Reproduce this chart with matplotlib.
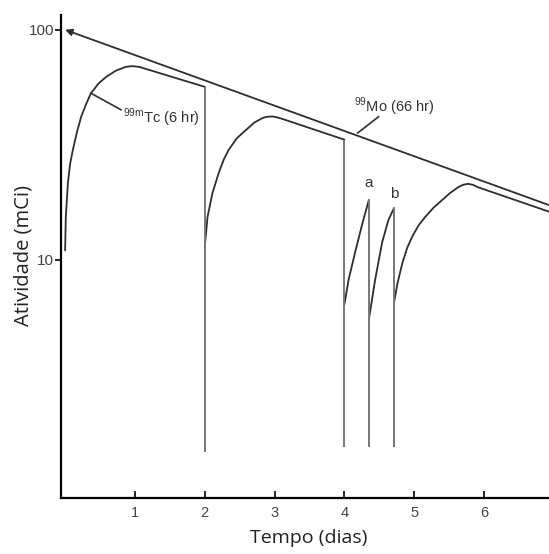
import matplotlib
matplotlib.use("Agg")
import matplotlib.pyplot as plt

plt.rcParams['mathtext.fontset'] = 'custom'
plt.rcParams['mathtext.rm'] = 'Liberation Sans'

# 99Mo decay line (endpoints)
mo_t = [0.0, 6.93]
mo_a = [100, 17.3]

# 99mTc growth curves between elutions
tc1_t = [0.0, 0.01, 0.04, 0.07, 0.11, 0.17, 0.23, 0.30, 0.37, 0.48, 0.59, 0.73, 0.87, 0.96, 1.06, 2.0]
tc1_a = [11, 15.4, 21.6, 26, 30, 36, 41.9, 47.5, 53, 58.5, 62.5, 66.5, 69, 69.5, 69, 56.5]

tc2_t = [2.0, 2.04, 2.11, 2.2, 2.27, 2.34, 2.46, 2.59, 2.71, 2.83, 2.90, 2.97, 3.04, 3.11, 4.0]
tc2_a = [11.4, 15.4, 19.5, 23.9, 27.2, 30, 33.8, 36.7, 39.5, 41.4, 41.9, 42.0, 41.6, 41, 33.3]

tca_t = [4.0, 4.06, 4.16, 4.26, 4.35]
tca_a = [6.4, 8.2, 11, 14.5, 18.2]

tcb_t = [4.35, 4.44, 4.54, 4.63, 4.71]
tcb_a = [5.5, 8.2, 11.9, 14.9, 16.8]

tc5_t = [4.71, 4.76, 4.83, 4.90, 4.97, 5.06, 5.16, 5.28, 5.4, 5.52, 5.63, 5.70, 5.77, 5.84, 5.91, 6.93]
tc5_a = [6.5, 7.9, 9.7, 11.3, 12.6, 14.1, 15.4, 16.9, 18.2, 19.6, 20.7, 21.2, 21.4, 21.2, 20.7, 16.2]

# elution drops (time, top, bottom)
drop_t = [2.0, 4.0, 4.35, 4.71]
drop_top = [56.5, 33.3, 18.2, 16.8]
drop_bot = [1.46, 1.54, 1.54, 1.54]

fig = plt.figure(figsize=(5.49, 5.54), dpi=100)
ax = fig.add_axes([0.111, 0.101, 0.889, 0.872])
ax.set_yscale('log')
ax.set_xlim(-0.06, 6.93)
ax.set_ylim(0.922, 116)

line_col = '#2e2e2e'
for t, a in [(tc1_t, tc1_a), (tc2_t, tc2_a), (tca_t, tca_a), (tcb_t, tcb_a), (tc5_t, tc5_a)]:
    ax.plot(t, a, color=line_col, lw=1.3, solid_joinstyle='round', solid_capstyle='round')

ax.vlines(drop_t, drop_bot, drop_top, color='#777777', lw=1.4)

# Mo line with arrow head at t=0
ax.annotate('', xy=(mo_t[0], mo_a[0]), xytext=(mo_t[1], mo_a[1]),
            arrowprops=dict(arrowstyle='-|>', color=line_col, lw=1.3,
                            shrinkA=0, shrinkB=0, mutation_scale=10),
            annotation_clip=False)

# labels with pointers
ax.plot([0.37, 0.8], [53, 44.9], color=line_col, lw=1.2)
ax.text(0.83, 41.4, r'$^{\mathrm{99m}}$Tc (6 hr)', fontsize=10.5, family='Liberation Sans',
        color='#333333', va='center', ha='left')
ax.plot([4.19, 4.49], [35.6, 41.9], color=line_col, lw=1.2)
ax.text(4.14, 46.2, r'$^{\mathrm{99}}$Mo (66 hr)', fontsize=10.5, family='Liberation Sans',
        color='#333333', va='center', ha='left')
ax.text(4.34, 21.6, 'a', fontsize=11, family='Liberation Sans', color='#333333',
        ha='center', va='center')
ax.text(4.71, 19.4, 'b', fontsize=11, family='Liberation Sans', color='#333333',
        ha='center', va='center')

ax.spines['top'].set_visible(False)
ax.spines['right'].set_visible(False)
ax.spines['left'].set_linewidth(1.6)
ax.spines['bottom'].set_linewidth(1.6)

ax.set_xticks([1, 2, 3, 4, 5, 6])
ax.set_xticklabels(['1', '2', '3', '4', '5', '6'])
ax.set_yticks([10, 100])
ax.set_yticklabels(['10', '100'])
ax.minorticks_off()
ax.tick_params(axis='x', direction='in', length=5, width=1.2, pad=6,
               labelsize=10.5, labelcolor='#444444')
ax.tick_params(axis='y', direction='out', length=4, width=1.2, pad=1,
               labelsize=11, labelcolor='#444444')
for lab in ax.get_xticklabels() + ax.get_yticklabels():
    lab.set_family('Liberation Sans')

ax.set_xlabel('Tempo (dias)', fontsize=14, family='Open Sans', color='#222222')
ax.set_ylabel('Atividade (mCi)', fontsize=14.5, family='Open Sans', color='#222222')
ax.xaxis.set_label_coords(0.507, -0.064)
ax.yaxis.set_label_coords(-0.057, 0.503)

fig.savefig('out.png', dpi=100)
